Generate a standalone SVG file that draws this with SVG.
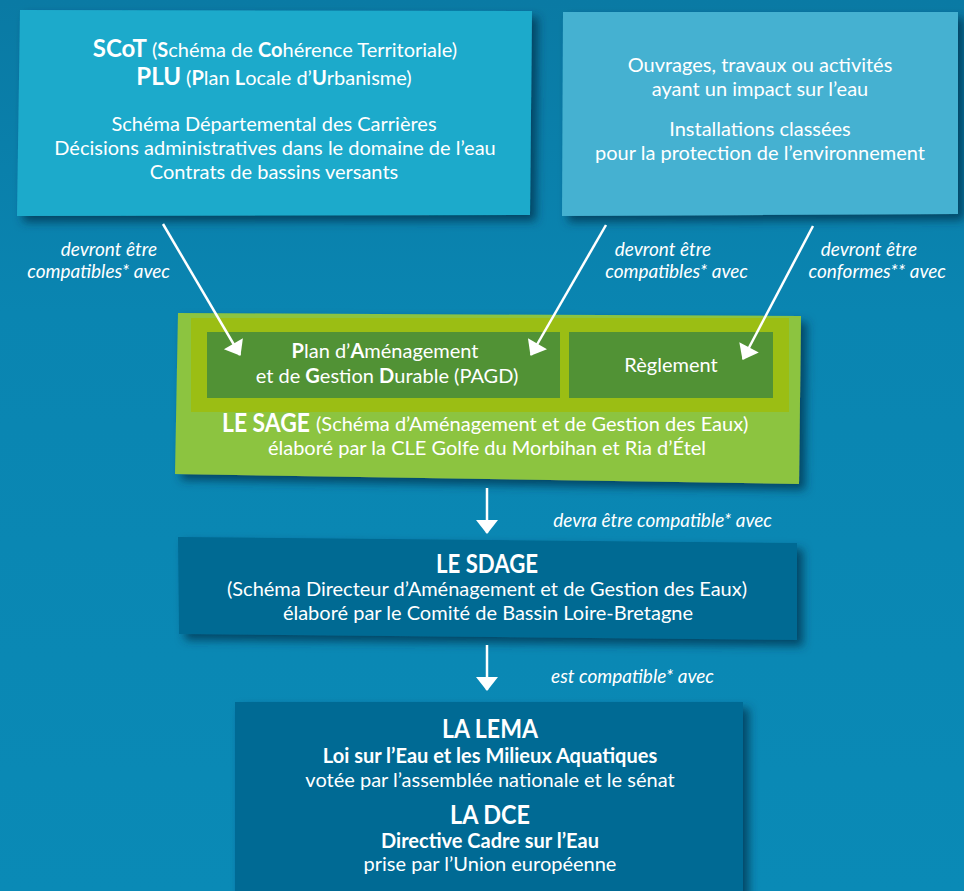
<svg xmlns="http://www.w3.org/2000/svg" width="964" height="891" viewBox="0 0 964 891">
<defs>
<linearGradient id="bg" x1="0" y1="0" x2="0" y2="1">
<stop offset="0" stop-color="#0a7aa4"/>
<stop offset="0.35" stop-color="#0a85b1"/>
<stop offset="1" stop-color="#0a8ab6"/>
</linearGradient>
<filter id="sh" x="-10%" y="-10%" width="125%" height="130%">
<feDropShadow dx="6" dy="6" stdDeviation="5" flood-color="#00324d" flood-opacity="0.75"/>
</filter>
<marker id="ah" markerUnits="userSpaceOnUse" markerWidth="16" markerHeight="24" viewBox="0 -12 14 24" refX="13" refY="0" orient="auto">
<path d="M0,-11 L14,0 L0,11 Z" fill="#ffffff"/>
</marker>
</defs>
<style>
text{font-family:Lato,"Open Sans","Liberation Sans",sans-serif;fill:#ffffff;text-anchor:middle}
.b{font-size:20px}
.bd{font-weight:bold}
.h{font-size:26px;font-weight:bold}
.st{text-anchor:start}
.lab{font-size:19px;font-style:italic;text-anchor:end}
.wire{stroke:#ffffff;stroke-width:2.5;fill:none;marker-end:url(#ah)}
</style>
<rect x="0" y="0" width="964" height="891" fill="url(#bg)"/>

<g id="box-scot">
<polygon points="20,10 532,11 530,215 17,216" fill="#1eaacb" filter="url(#sh)"/>
<text x="275" y="57" class="b"><tspan class="bd" font-size="24">SCoT</tspan> (<tspan class="bd">S</tspan>chéma de <tspan class="bd">Co</tspan>hérence Territoriale)</text>
<text x="274" y="85" class="b"><tspan class="bd" font-size="24">PLU</tspan> (<tspan class="bd">P</tspan>lan <tspan class="bd">L</tspan>ocale d’<tspan class="bd">U</tspan>rbanisme)</text>
<text x="274" y="131" class="b">Schéma Départemental des Carrières</text>
<text x="275" y="155" class="b">Décisions administratives dans le domaine de l’eau</text>
<text x="274" y="179" class="b">Contrats de bassins versants</text>
</g>

<g id="box-ouvrages">
<polygon points="563,12 958,12 958,214 562,216" fill="#45b1d1" filter="url(#sh)"/>
<text x="760" y="72" class="b">Ouvrages, travaux ou activités</text>
<text x="760" y="96" class="b">ayant un impact sur l’eau</text>
<text x="760" y="136" class="b">Installations classées</text>
<text x="760" y="160" class="b">pour la protection de l’environnement</text>
</g>

<g id="box-sage">
<polygon points="178,313 801,316 799,484 175,474" fill="#8cc43f" filter="url(#sh)"/>
<rect x="191" y="318" width="598" height="94" fill="#9bbe14"/>
<text x="222" y="432" class="h st" textLength="88" lengthAdjust="spacingAndGlyphs">LE SAGE</text>
<text x="316" y="431" class="b st">(Schéma d’Aménagement et de Gestion des Eaux)</text>
<text x="487" y="455" class="b">élaboré par la CLE Golfe du Morbihan et Ria d’Étel</text>
</g>

<g id="box-pagd">
<rect x="207" y="332" width="353" height="66" fill="#519235"/>
<text x="385" y="358" class="b"><tspan class="bd">P</tspan>lan d’<tspan class="bd">A</tspan>ménagement</text>
<text x="387" y="383" class="b">et de <tspan class="bd">G</tspan>estion <tspan class="bd">D</tspan>urable (PAGD)</text>
</g>

<g id="box-reglement">
<rect x="569" y="332" width="204" height="66" fill="#519235"/>
<text x="671" y="372" class="b">Règlement</text>
</g>

<g id="box-sdage">
<polygon points="178,537 797,543 797,640 179,634" fill="#006a93" filter="url(#sh)"/>
<text x="487" y="573" class="h" textLength="102" lengthAdjust="spacingAndGlyphs">LE SDAGE</text>
<text x="487" y="596" class="b">(Schéma Directeur d’Aménagement et de Gestion des Eaux)</text>
<text x="488" y="620" class="b">élaboré par le Comité de Bassin Loire-Bretagne</text>
</g>

<g id="box-lema">
<rect x="235" y="702" width="508" height="200" fill="#006b94" filter="url(#sh)"/>
<text x="490" y="738" class="h" textLength="96" lengthAdjust="spacingAndGlyphs">LA LEMA</text>
<text x="490" y="763" class="b bd">Loi sur l’Eau et les Milieux Aquatiques</text>
<text x="490" y="787" class="b">votée par l’assemblée nationale et le sénat</text>
<text x="490" y="824" class="h" textLength="80" lengthAdjust="spacingAndGlyphs">LA DCE</text>
<text x="490" y="848" class="b bd">Directive Cadre sur l’Eau</text>
<text x="490" y="871" class="b">prise par l’Union européenne</text>
</g>

<g id="connectors">
<line x1="163" y1="224" x2="240" y2="355" class="wire"/>
<line x1="606" y1="225" x2="531" y2="355" class="wire"/>
<line x1="813" y1="226" x2="743" y2="359" class="wire"/>
<line x1="487" y1="488" x2="487" y2="533" class="wire"/>
<line x1="487" y1="645" x2="487" y2="690" class="wire"/>
</g>

<g id="labels">
<text x="157" y="256" class="lab">devront être</text>
<text x="170" y="278" class="lab">compatibles* avec</text>
<text x="711" y="256" class="lab">devront être</text>
<text x="748" y="278" class="lab">compatibles* avec</text>
<text x="917" y="256" class="lab">devront être</text>
<text x="946" y="278" class="lab">conformes** avec</text>
<text x="772" y="527" class="lab">devra être compatible* avec</text>
<text x="714" y="683" class="lab">est compatible* avec</text>
</g>
</svg>
